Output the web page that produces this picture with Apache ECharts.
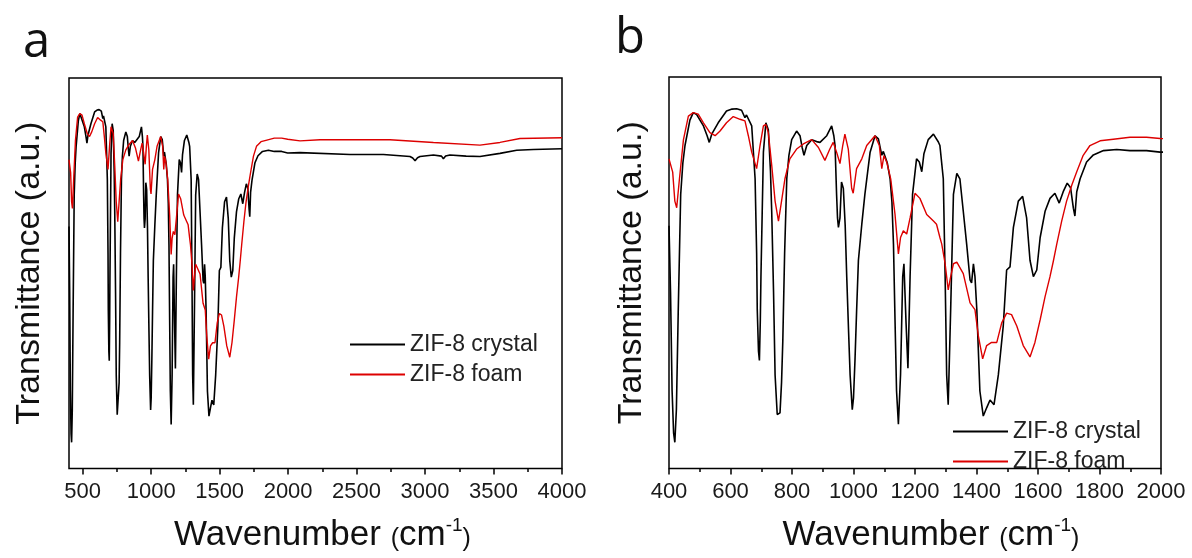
<!DOCTYPE html>
<html>
<head>
<meta charset="utf-8">
<script src="https://cdn.jsdelivr.net/npm/echarts@6/dist/echarts.min.js"></script>
<style>html,body{margin:0;padding:0;background:#fff;}#c{width:1192px;height:558px;}</style>
</head>
<body>
<div id="c"></div>
<script>
// ZIF-8 crystal spectrum (wavenumber cm-1, transmittance a.u.)
const crystalWn = [400,405,410,415,419,424,430,438,445,452,468,479,490,512,524,531,539,560,587,605,620,636,647,652,658,669,680,685,687,691,694,697,699,703,707,715,723,730,734,740,745,752,758,761,766,770,776,783,790,799,815,826,833,839,848,864,880,891,913,929,936,940,945,948,951,956,961,967,973,978,984,989,996,1000,1005,1010,1016,1027,1037,1054,1070,1081,1092,1097,1102,1110,1119,1125,1130,1135,1140,1146,1153,1160,1164,1171,1177,1184,1192,1205,1214,1222,1229,1243,1260,1276,1281,1292,1298,1303,1308,1316,1325,1336,1346,1357,1368,1379,1384,1390,1395,1401,1411,1422,1433,1444,1457,1471,1487,1498,1509,1520,1536,1550,1563,1574,1585,1596,1607,1623,1639,1655,1669,1682,1695,1706,1715,1720,1726,1737,1758,1780,1813,1856,1899,1953,1997,2087,2452,2696,2890,2910,2927,2945,2963,3061,3120,3134,3150,3182,3300,3401,3547,3669,3791,4000];
const crystalT = [62,45,20,9,6.7,15,40,70,78,82.5,89,90.9,90.4,87.5,85,83.3,85.4,88.3,91.3,91.8,91.9,91.5,89.6,90.3,90,87.5,74,55,40.6,30,27.6,38,49,65,80.8,88.3,86.5,76,65.7,45,23.9,13.8,13.5,14.2,22,32.3,55,74,80,84,86.2,85,82,80,82.5,84,83.5,83.3,85,87.5,85,82.5,70,64,61.6,64,73.2,71.5,62,49,35,23.9,15,18,28,40,53.2,62.4,70,80.8,85,84.2,80,81,80.8,78,74,68,57.3,38,19.8,11.3,24,49,52.3,37,25.6,49,70,79.1,78.3,75.8,80.4,84,85.4,83.4,82.5,74,49,23.9,16.3,40.6,70,75.4,74,65.7,57.3,48.2,47.4,52.3,49,40.6,19.8,13.4,15.5,17.5,16.3,23.9,36.4,50.7,51.5,61.6,68.3,69.5,64,53.2,49,50.7,59,65.7,69,70.3,67.8,70.7,72.9,71.7,66.5,64.5,70.7,74,78.3,80.1,81.2,81.5,81.2,81.2,80.8,80.9,80.4,80.4,79.9,79.5,78.8,79.6,79.9,80.3,80,79.3,80,80.3,80,79.9,80.7,81.5,81.7,81.9];
// ZIF-8 foam spectrum
const foamWn = [400,412,419,425,434,447,463,479,495,512,533,550,566,587,609,631,647,658,669,685,696,707,715,723,734,745,756,766,777,793,815,837,864,886,907,923,934,945,956,965,972,983,994,999,1010,1027,1043,1070,1084,1092,1099,1108,1121,1135,1146,1153,1162,1173,1184,1200,1216,1238,1260,1270,1281,1287,1298,1308,1316,1325,1336,1357,1379,1395,1406,1420,1433,1449,1466,1482,1498,1514,1531,1552,1574,1590,1607,1623,1639,1650,1661,1677,1693,1710,1726,1747,1769,1802,1845,1899,1953,1997,2087,2233,2744,3061,3401,3547,3693,4000];
const foamT = [79.1,75.7,68.3,66.6,74,84,90,90.9,90.5,88.3,85.8,85,86.2,88.3,89.9,89.2,88.8,85,80.8,76.6,82.5,87.5,87.9,85.8,77.5,68.3,63.2,68.3,74,79.1,81.6,82.9,84,82,78.7,81.6,83.3,80.8,77.9,82.5,85.4,81.6,71.6,70.3,76.6,79.1,82.5,85,82.5,76.6,79.9,78.3,74,64.9,54.8,59,60.7,59.9,64,70.3,69,64.9,63.2,62.4,59,57.3,52.3,45.6,49,52.3,52.7,49.8,42.3,40.6,33.9,28,31.4,32.2,32.2,37.2,39.7,39.3,36.4,31.4,28.5,32.2,38,43.9,49,53,57.3,63.2,68.3,72.4,75.8,80,82.5,83.7,84.1,84.6,84.6,84.3,83.9,84.2,84.2,83.5,82.8,83.5,84.5,84.7];
// tick labels
const ticksA = [500,1000,1500,2000,2500,3000,3500,4000];
const minorTicksA = [750,1250,1750,2250,2750,3250,3750];
const seriesNames = ['ZIF-8 crystal','ZIF-8 foam'];
const panelLabels = ['a','b'];

const crystalData = crystalWn.map((w,i)=>[w,crystalT[i]]);
const foamData = foamWn.map((w,i)=>[w,foamT[i]]);

const FONT = "'Liberation Sans', Arial, sans-serif";
const xName = '{a|Wavenumber }{p|(}{a|cm}{s|-1}{p|)}';
const xNameRich = {
  a:{fontSize:35,fontFamily:FONT,color:'#111'},
  p:{fontSize:25,fontFamily:FONT,color:'#111',padding:[7,0,0,0]},
  s:{fontSize:19,fontFamily:FONT,color:'#111',padding:[0,0,19,0]}
};
const grids = [
  {left:69,top:78,width:493,height:399},
  {left:669,top:77,width:492,height:398}
];
const gridStyle = {show:true,borderColor:'#000',borderWidth:1.5,backgroundColor:'transparent'};
const plainFmt = v => String(v);
const labelStyle = {fontSize:22,fontFamily:FONT,color:'#1a1a1a',margin:12,formatter:plainFmt};

const chart = echarts.init(document.getElementById('c'));
chart.setOption({
  animation:false,
  backgroundColor:'#fff',
  grid: grids.map(g=>Object.assign({},g,gridStyle)),
  xAxis:[
    {type:'value',gridIndex:0,position:'bottom',min:400,max:4000,
     axisLine:{show:false},splitLine:{show:false},
     axisTick:{show:true,inside:false,length:6,customValues:ticksA,lineStyle:{color:'#000',width:1.5}},
     axisLabel:Object.assign({show:true,customValues:ticksA},labelStyle),
     name:xName,nameLocation:'middle',nameGap:48,nameTextStyle:{rich:xNameRich,padding:[0,0,0,14]}},
    {type:'value',gridIndex:0,position:'bottom',offset:0,min:400,max:4000,
     axisLine:{show:false},splitLine:{show:false},
     axisTick:{show:true,inside:false,length:3.5,customValues:minorTicksA,lineStyle:{color:'#000',width:1.5}},
     axisLabel:{show:false}},
    {type:'value',gridIndex:1,position:'bottom',min:400,max:2000,interval:200,
     axisLine:{show:false},splitLine:{show:false},
     axisTick:{show:true,inside:false,length:6,lineStyle:{color:'#000',width:1.5}},
     minorTick:{show:true,splitNumber:2,length:3.5,lineStyle:{color:'#000',width:1.5}},
     axisLabel:Object.assign({show:true},labelStyle),
     name:xName,nameLocation:'middle',nameGap:48,nameTextStyle:{rich:xNameRich,padding:[0,0,0,32]}}
  ],
  yAxis:[22,20].map((gap,i)=>({type:'value',gridIndex:i,min:0,max:100,
     axisLine:{show:false},axisTick:{show:false},axisLabel:{show:false},splitLine:{show:false},
     name:'Transmittance (a.u.)',nameLocation:'middle',nameGap:gap,
     nameTextStyle:{fontSize:34,fontFamily:FONT,color:'#111'}})),
  legend:[
    {left:345,top:328,orient:'vertical',itemWidth:55,itemHeight:2,itemGap:7,icon:'rect',
     data:seriesNames,textStyle:{fontSize:23,fontFamily:FONT,color:'#222'},selectedMode:false},
    {left:948,top:415,orient:'vertical',itemWidth:55,itemHeight:2,itemGap:7,icon:'rect',
     data:seriesNames,textStyle:{fontSize:23,fontFamily:FONT,color:'#222'},selectedMode:false}
  ],
  graphic:[
    {type:'text',left:23,top:19,style:{text:panelLabels[0],font:"49px 'Open Sans', sans-serif",fill:'#111',
      shadowBlur:5,shadowColor:'rgba(0,0,0,0.35)',shadowOffsetX:2,shadowOffsetY:3}},
    {type:'text',left:615,top:15,style:{text:panelLabels[1],font:"49px 'Open Sans', sans-serif",fill:'#111',
      shadowBlur:5,shadowColor:'rgba(0,0,0,0.35)',shadowOffsetX:2,shadowOffsetY:3}}
  ],
  series:[
    {name:seriesNames[0],type:'line',xAxisIndex:0,yAxisIndex:0,data:crystalData,showSymbol:false,symbol:'none',clip:true,
     color:'#000',lineStyle:{color:'#000',width:1.6},z:2},
    {name:seriesNames[1],type:'line',xAxisIndex:0,yAxisIndex:0,data:foamData,showSymbol:false,symbol:'none',clip:true,
     color:'#dd0000',lineStyle:{color:'#dd0000',width:1.4},z:3},
    {name:seriesNames[0],type:'line',xAxisIndex:2,yAxisIndex:1,data:crystalData,showSymbol:false,symbol:'none',clip:true,
     color:'#000',lineStyle:{color:'#000',width:1.6},z:2},
    {name:seriesNames[1],type:'line',xAxisIndex:2,yAxisIndex:1,data:foamData,showSymbol:false,symbol:'none',clip:true,
     color:'#dd0000',lineStyle:{color:'#dd0000',width:1.4},z:3}
  ]
});
</script>
</body>
</html>
